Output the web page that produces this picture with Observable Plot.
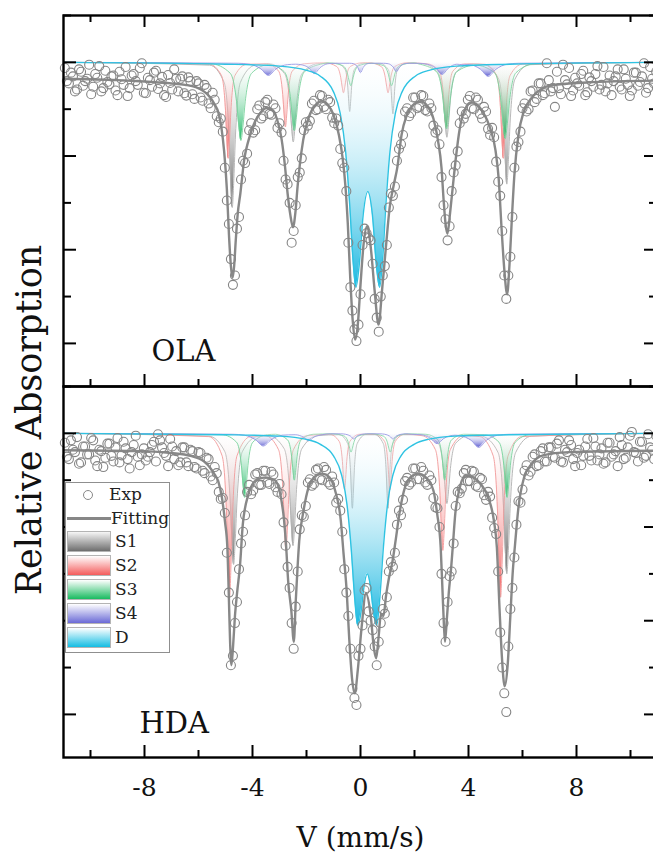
<!DOCTYPE html>
<html>
<head>
<meta charset="utf-8">
<script src="https://cdn.jsdelivr.net/npm/d3@7"></script>
<script src="https://cdn.jsdelivr.net/npm/@observablehq/plot@0.6"></script>
<style>
  html, body { margin: 0; padding: 0; background: #fff; }
  #wrap { position: relative; width: 653px; height: 856px; overflow: hidden; }
  #ylabel { position: absolute; left: 29px; top: 420px; transform: translate(-50%, -50%) rotate(-90deg);
            font-family: 'DejaVu Serif', 'Liberation Serif', serif; font-size: 35px; line-height: 1; white-space: nowrap; color: #111; }
  #legend { position: absolute; left: 65px; top: 482px; width: 103px; height: 169px;
            border: 1px solid #8f8f8f; background: #fff;
            font-family: 'DejaVu Serif', 'Liberation Serif', serif; font-size: 17px; color: #222; }
  #legend .it { position: absolute; }
  #legend .lbl { position: absolute; line-height: 20px; white-space: nowrap; }
  #legend .sw { position: absolute; left: 1px; width: 42px; height: 19px; border: 1px solid #b4b4b4; }
</style>
</head>
<body>
<svg width="0" height="0" style="position:absolute">
  <defs>
    <linearGradient id="gS1" x1="0" y1="0" x2="0" y2="1">
      <stop offset="0" stop-color="#ffffff" stop-opacity="0.1"/>
      <stop offset="1" stop-color="#555555" stop-opacity="0.95"/>
    </linearGradient>
    <linearGradient id="gS2" x1="0" y1="0" x2="0" y2="1">
      <stop offset="0" stop-color="#ffffff" stop-opacity="0.1"/>
      <stop offset="1" stop-color="#f24f4f" stop-opacity="0.95"/>
    </linearGradient>
    <linearGradient id="gS3" x1="0" y1="0" x2="0" y2="1">
      <stop offset="0" stop-color="#ffffff" stop-opacity="0.1"/>
      <stop offset="1" stop-color="#0fb45a" stop-opacity="0.95"/>
    </linearGradient>
    <linearGradient id="gS4" x1="0" y1="0" x2="0" y2="1">
      <stop offset="0" stop-color="#ffffff" stop-opacity="0.1"/>
      <stop offset="1" stop-color="#5a5ad0" stop-opacity="0.95"/>
    </linearGradient>
    <linearGradient id="gD" x1="0" y1="0" x2="0" y2="1">
      <stop offset="0" stop-color="#ffffff" stop-opacity="0.1"/>
      <stop offset="1" stop-color="#0db3df" stop-opacity="0.95"/>
    </linearGradient>
  </defs>
</svg>
<div id="wrap">
  <div id="chart"></div>
  <div id="ylabel">Relative Absorption</div>
  <div id="legend">
    <div class="it" style="left:17px;top:7px;width:8px;height:8px;border:1px solid #888;border-radius:50%;"></div>
    <div class="lbl" style="left:43px;top:1px;">Exp</div>
    <div class="it" style="left:1px;top:34px;width:44px;height:2.5px;background:#878787;"></div>
    <div class="lbl" style="left:45px;top:25px;">Fitting</div>
    <div class="sw" style="top:48px;background:linear-gradient(#f6f6f6,#6e6e6e);"></div>
    <div class="lbl" style="left:49px;top:48px;">S1</div>
    <div class="sw" style="top:72px;background:linear-gradient(#ffffff,#f45c5c);"></div>
    <div class="lbl" style="left:49px;top:72px;">S2</div>
    <div class="sw" style="top:96px;background:linear-gradient(#ffffff,#19bb60);"></div>
    <div class="lbl" style="left:49px;top:96px;">S3</div>
    <div class="sw" style="top:120px;background:linear-gradient(#ffffff,#6a6ad6);"></div>
    <div class="lbl" style="left:49px;top:120px;">S4</div>
    <div class="sw" style="top:144px;background:linear-gradient(#ffffff,#13bde3);"></div>
    <div class="lbl" style="left:49px;top:144px;">D</div>
  </div>
</div>
<script>
// ---------- tick values ----------
const xMajor = [-8, -4, 0, 4, 8];
const xMinor = [-10, -6, -2, 2, 6, 10];
const yMajor = [0, -2, -4, -6];
const yMinor = [1, -1, -3, -5];
const panels = ["OLA", "HDA"];

// ---------- experimental channels (mm/s), two interleaved sets ----------
const velocity = [-10.95,-10.80,-10.65,-10.50,-10.35,-10.20,-10.05,-9.90,-9.75,-9.60,-9.45,-9.30,-9.15,-9.00,-8.85,-8.70,-8.55,-8.40,-8.25,-8.10,-7.95,-7.80,-7.65,-7.50,-7.35,-7.20,-7.05,-6.90,-6.75,-6.60,-6.45,-6.30,-6.15,-6.00,-5.85,-5.70,-5.55,-5.40,-5.25,-5.10,-4.95,-4.80,-4.65,-4.50,-4.35,-4.20,-4.05,-3.90,-3.75,-3.60,-3.45,-3.30,-3.15,-3.00,-2.85,-2.70,-2.55,-2.40,-2.25,-2.10,-1.95,-1.80,-1.65,-1.50,-1.35,-1.20,-1.05,-0.90,-0.75,-0.60,-0.45,-0.30,-0.15,0.00,0.15,0.30,0.45,0.60,0.75,0.90,1.05,1.20,1.35,1.50,1.65,1.80,1.95,2.10,2.25,2.40,2.55,2.70,2.85,3.00,3.15,3.30,3.45,3.60,3.75,3.90,4.05,4.20,4.35,4.50,4.65,4.80,4.95,5.10,5.25,5.40,5.55,5.70,5.85,6.00,6.15,6.30,6.45,6.60,6.75,6.90,7.05,7.20,7.35,7.50,7.65,7.80,7.95,8.10,8.25,8.40,8.55,8.70,8.85,9.00,9.15,9.30,9.45,9.60,9.75,9.90,10.05,10.20,10.35,10.50,10.65,10.80,10.95];
const velocityB = [-10.875,-10.725,-10.575,-10.425,-10.275,-10.125,-9.975,-9.825,-9.675,-9.525,-9.375,-9.225,-9.075,-8.925,-8.775,-8.625,-8.475,-8.325,-8.175,-8.025,-7.875,-7.725,-7.575,-7.425,-7.275,-7.125,-6.975,-6.825,-6.675,-6.525,-6.375,-6.225,-6.075,-5.925,-5.775,-5.625,-5.475,-5.325,-5.175,-5.025,-4.875,-4.725,-4.575,-4.425,-4.275,-4.125,-3.975,-3.825,-3.675,-3.525,-3.375,-3.225,-3.075,-2.925,-2.775,-2.625,-2.475,-2.325,-2.175,-2.025,-1.875,-1.725,-1.575,-1.425,-1.275,-1.125,-0.975,-0.825,-0.675,-0.525,-0.375,-0.225,-0.075,0.075,0.225,0.375,0.525,0.675,0.825,0.975,1.125,1.275,1.425,1.575,1.725,1.875,2.025,2.175,2.325,2.475,2.625,2.775,2.925,3.075,3.225,3.375,3.525,3.675,3.825,3.975,4.125,4.275,4.425,4.575,4.725,4.875,5.025,5.175,5.325,5.475,5.625,5.775,5.925,6.075,6.225,6.375,6.525,6.675,6.825,6.975,7.125,7.275,7.425,7.575,7.725,7.875,8.025,8.175,8.325,8.475,8.625,8.775,8.925,9.075,9.225,9.375,9.525,9.675,9.825,9.975,10.125,10.275,10.425,10.575,10.725,10.875];

// ---------- OLA panel ----------
const olaExp = [-0.12,-0.45,-0.30,-0.58,-0.20,-0.40,-0.05,-0.52,-0.33,-0.62,-0.18,-0.47,-0.28,-0.70,-0.36,-0.10,-0.55,-0.25,-0.48,-0.02,-0.66,-0.38,-0.22,-0.57,-0.31,-0.74,-0.44,-0.15,
-0.62,-0.30,-0.71,-0.40,-0.78,-0.45,-0.82,-0.55,-0.98,-0.80,-1.28,-1.48,-2.95,-4.20,-4.55,-3.30,-2.10,-1.95,-1.30,-1.45,-0.92,-1.15,-0.80,-1.12,-0.98,-1.30,-2.10,-2.60,-3.85,-3.05,-2.35,-1.45,-1.35,-0.88,-1.02,-0.70,-0.95,-0.80,-1.18,-1.20,-1.85,-2.25,-3.85,-5.30,-5.95,-4.95,-3.55,-3.75,-4.30,-5.45,-5.00,-4.35,-3.10,-2.85,-2.10,-1.75,-1.05,-1.15,-0.75,-0.98,-0.70,-1.02,-0.88,-1.35,-1.45,-2.45,-3.35,-3.50,-2.35,-1.90,-1.05,-1.10,-0.72,-1.00,-0.80,-1.20,-1.05,-1.55,-1.60,-2.55,-3.60,-5.05,-4.15,-2.25,-1.70,-0.98,-1.05,-0.62,-0.85,-0.45,-0.70,-0.02,
-0.62,-0.95,-0.55,-0.05,-0.47,-0.72,-0.33,-0.50,-0.18,-0.64,-0.40,-0.25,-0.58,-0.10,-0.45,-0.70,-0.30,-0.52,-0.15,-0.48,-0.60,-0.22,-0.42,-0.02,-0.55,-0.35,-0.20];
const olaExpB = [-0.40,-0.22,-0.62,-0.15,-0.50,-0.35,-0.68,-0.25,-0.08,-0.55,-0.42,-0.30,-0.60,-0.20,-0.48,-0.72,-0.28,-0.40,-0.12,-0.65,-0.33,-0.52,-0.18,-0.45,-0.70,-0.27,-0.58,-0.35,
-0.35,-0.66,-0.32,-0.68,-0.40,-0.75,-0.48,-0.88,-0.65,-1.15,-1.20,-2.25,-3.45,-4.75,-3.55,-2.50,-2.15,-1.45,-1.50,-1.00,-1.20,-0.85,-1.10,-0.90,-1.40,-1.50,-2.50,-3.00,-3.60,-2.45,-2.05,-1.28,-1.25,-0.82,-1.00,-0.72,-1.00,-0.85,-1.30,-1.35,-2.15,-2.75,-4.80,-5.70,-5.60,-3.90,-3.65,-3.80,-5.05,-5.75,-4.55,-3.90,-2.80,-2.65,-1.85,-1.55,-0.98,-1.08,-0.75,-0.95,-0.72,-1.05,-0.98,-1.50,-1.75,-3.05,-3.80,-2.75,-2.20,-1.30,-1.20,-0.80,-0.98,-0.75,-1.10,-0.95,-1.42,-1.40,-2.12,-2.85,-4.55,-4.55,-3.30,-1.80,-1.48,-0.88,-1.00,-0.60,-0.78,-0.45,-0.66,-0.38,
-0.55,-0.20,-0.68,-0.38,-0.12,-0.60,-0.45,-0.25,-0.70,-0.32,-0.52,-0.08,-0.48,-0.62,-0.28,-0.40,-0.15,-0.58,-0.35,-0.72,-0.22,-0.50,-0.30,-0.65,-0.10,-0.45];

const olaFit = [[-10.95,-0.35],[-9,-0.38],[-8,-0.41],[-7,-0.45],[-6.5,-0.48],[-6.1,-0.53],[-5.8,-0.62],[-5.55,-0.76],[-5.4,-0.9],[-5.27,-1.06],[-5.15,-1.4],[-5.05,-1.9],[-4.95,-2.7],[-4.87,-3.7],[-4.8,-4.35],[-4.74,-4.6],[-4.68,-4.35],[-4.62,-3.8],[-4.55,-3.25],[-4.45,-2.8],[-4.3,-2.05],[-4.15,-1.67],[-3.95,-1.32],[-3.7,-1.07],[-3.45,-0.97],[-3.24,-1.03],[-3.05,-1.3],[-2.92,-1.65],[-2.8,-2.2],[-2.7,-2.8],[-2.6,-3.25],[-2.5,-3.52],[-2.41,-3.2],[-2.33,-2.65],[-2.25,-2.2],[-2.12,-1.65],[-1.92,-1.18],[-1.65,-0.9],[-1.43,-0.83],[-1.22,-0.9],[-1.0,-1.12],[-0.8,-1.55],[-0.66,-2.05],[-0.55,-2.7],[-0.47,-3.45],[-0.38,-4.6],[-0.29,-5.5],[-0.2,-5.92],[-0.1,-5.6],[0.0,-4.75],[0.12,-3.85],[0.25,-3.5],[0.38,-3.95],[0.52,-4.85],[0.67,-5.6],[0.8,-4.85],[0.94,-3.95],[1.08,-3.1],[1.22,-2.65],[1.37,-2.22],[1.52,-1.55],[1.72,-1.12],[2.0,-0.88],[2.21,-0.83],[2.48,-0.93],[2.7,-1.2],[2.87,-1.67],[3.0,-2.25],[3.08,-2.95],[3.15,-3.45],[3.22,-3.66],[3.32,-3.2],[3.42,-2.65],[3.52,-2.1],[3.68,-1.4],[3.89,-0.98],[4.1,-0.85],[4.3,-0.9],[4.52,-1.05],[4.8,-1.4],[5.0,-1.88],[5.12,-2.5],[5.22,-3.5],[5.33,-4.45],[5.43,-4.95],[5.52,-4.3],[5.6,-3.4],[5.7,-2.4],[5.85,-1.55],[6.05,-1.05],[6.35,-0.75],[6.7,-0.57],[7.0,-0.5],[8.4,-0.43],[10.95,-0.39]];

const olaS1 = [[-11,0],[-5.59,-0.06],[-5.05,-0.43],[-4.87,-1.55],[-4.81,-2.48],[-4.75,-3.1],[-4.69,-2.48],[-4.63,-1.55],[-4.45,-0.43],[-3.91,-0.06],[-3.40,-0.03],[-2.815,-0.24],[-2.62,-0.85],[-2.555,-1.36],[-2.49,-1.7],[-2.425,-1.36],[-2.36,-0.85],[-2.165,-0.24],[-1.58,-0.03],[-0.89,-0.02],[-0.575,-0.15],[-0.47,-0.53],[-0.435,-0.84],[-0.40,-1.05],[-0.365,-0.84],[-0.33,-0.53],[-0.225,-0.15],[0.09,-0.02],[0.71,-0.02],[1.025,-0.15],[1.13,-0.55],[1.165,-0.88],[1.2,-1.1],[1.235,-0.88],[1.27,-0.55],[1.375,-0.15],[1.69,-0.02],[2.29,-0.03],[2.875,-0.22],[3.07,-0.8],[3.135,-1.28],[3.2,-1.6],[3.265,-1.28],[3.33,-0.8],[3.525,-0.22],[4.11,-0.03],[4.58,-0.05],[5.12,-0.36],[5.30,-1.3],[5.36,-2.08],[5.42,-2.6],[5.48,-2.08],[5.54,-1.3],[5.72,-0.36],[6.26,-0.05],[11,0]];

const olaS2 = [[-11,0],[-5.6,-0.04],[-5.15,-0.28],[-5.0,-1.03],[-4.95,-1.64],[-4.9,-2.05],[-4.85,-1.64],[-4.8,-1.03],[-4.65,-0.28],[-4.2,-0.04],[-3.48,-0.03],[-3.03,-0.19],[-2.88,-0.69],[-2.83,-1.1],[-2.78,-1.38],[-2.73,-1.1],[-2.68,-0.69],[-2.53,-0.19],[-2.08,-0.03],[-1.33,-0.01],[-0.88,-0.09],[-0.73,-0.33],[-0.68,-0.52],[-0.63,-0.65],[-0.58,-0.52],[-0.53,-0.33],[-0.38,-0.09],[0.07,-0.01],[0.32,-0.01],[0.77,-0.09],[0.92,-0.33],[0.97,-0.52],[1.02,-0.65],[1.07,-0.52],[1.12,-0.33],[1.27,-0.09],[1.72,-0.01],[2.47,-0.03],[2.92,-0.19],[3.07,-0.69],[3.12,-1.1],[3.17,-1.38],[3.22,-1.1],[3.27,-0.69],[3.42,-0.19],[3.87,-0.03],[4.59,-0.04],[5.04,-0.28],[5.19,-1.03],[5.24,-1.64],[5.29,-2.05],[5.34,-1.64],[5.39,-1.03],[5.54,-0.28],[5.99,-0.04],[11,0]];

const olaS3 = [[-11,0],[-5.55,-0.03],[-4.83,-0.23],[-4.59,-0.84],[-4.51,-1.34],[-4.43,-1.67],[-4.35,-1.34],[-4.27,-0.84],[-4.03,-0.23],[-3.4,-0.05],[-2.825,-0.2],[-2.6,-0.73],[-2.525,-1.17],[-2.45,-1.46],[-2.375,-1.17],[-2.3,-0.73],[-2.075,-0.2],[-1.4,-0.03],[-1.2,-0.01],[-0.66,-0.07],[-0.48,-0.25],[-0.42,-0.4],[-0.36,-0.5],[-0.3,-0.4],[-0.24,-0.25],[-0.06,-0.07],[0.4,-0.02],[0.85,-0.07],[1.03,-0.25],[1.09,-0.4],[1.15,-0.5],[1.21,-0.4],[1.27,-0.25],[1.45,-0.07],[1.99,-0.01],[2.14,-0.03],[2.815,-0.2],[3.04,-0.71],[3.115,-1.14],[3.19,-1.42],[3.265,-1.14],[3.34,-0.71],[3.565,-0.2],[4.24,-0.06],[4.96,-0.22],[5.2,-0.82],[5.28,-1.3],[5.36,-1.63],[5.44,-1.3],[5.52,-0.82],[5.76,-0.22],[6.48,-0.03],[11,0]];

const olaS4 = [[-11,0],[-4.53,-0.02],[-4.11,-0.04],[-3.69,-0.14],[-3.41,-0.28],[-3.13,-0.14],[-2.71,-0.05],[-2.4,-0.04],[-2.21,-0.05],[-1.91,-0.12],[-1.71,-0.24],[-1.51,-0.12],[-1.21,-0.03],[-0.91,-0.02],[-0.4,-0.02],[-0.25,-0.03],[-0.1,-0.11],[0,-0.22],[0.1,-0.11],[0.25,-0.03],[0.4,-0.02],[0.85,-0.02],[1.03,-0.03],[1.21,-0.1],[1.33,-0.2],[1.45,-0.1],[1.63,-0.03],[1.81,-0.02],[2.14,-0.02],[2.47,-0.04],[2.8,-0.13],[3.02,-0.26],[3.24,-0.13],[3.57,-0.04],[3.75,-0.05],[4.03,-0.05],[4.45,-0.15],[4.73,-0.3],[5.01,-0.15],[5.43,-0.04],[5.85,-0.02],[11,0]];

const olaD = [[-11,0],[-5,-0.04],[-3,-0.08],[-2,-0.17],[-1.5,-0.29],[-1,-0.63],[-0.75,-1.09],[-0.55,-1.91],[-0.4,-3.04],[-0.28,-4.2],[-0.17,-4.8],[-0.05,-4.34],[0.1,-3.25],[0.27,-2.76],[0.44,-3.25],[0.59,-4.34],[0.71,-4.8],[0.82,-4.2],[0.94,-3.04],[1.09,-1.91],[1.29,-1.09],[1.54,-0.63],[2.04,-0.29],[2.54,-0.17],[3.54,-0.08],[5.54,-0.04],[11,0]];

// ---------- HDA panel ----------
const hdaExp = [-0.20,-0.55,-0.35,-0.08,-0.62,-0.28,-0.45,-0.15,-0.70,-0.38,-0.52,-0.22,-0.60,-0.10,-0.47,-0.32,-0.75,-0.25,-0.50,-0.45,-0.58,-0.40,-0.18,-0.02,-0.30,-0.48,-0.12,-0.55,
-0.68,-0.30,-0.62,-0.35,-0.72,-0.40,-0.80,-0.52,-0.92,-0.72,-1.25,-1.38,-2.55,-4.95,-4.05,-2.90,-2.10,-1.25,-1.30,-0.88,-1.10,-0.80,-1.05,-0.82,-1.15,-1.08,-1.90,-2.85,-4.05,-3.70,-2.05,-1.78,-1.05,-1.12,-0.78,-0.98,-0.72,-1.05,-0.92,-1.48,-1.65,-2.90,-3.90,-5.45,-5.80,-4.60,-3.35,-3.80,-4.20,-4.95,-4.05,-3.85,-2.95,-2.85,-1.95,-1.75,-1.02,-1.10,-0.75,-0.98,-0.72,-1.05,-0.90,-1.38,-1.60,-3.00,-4.45,-3.05,-2.35,-1.25,-1.18,-0.78,-1.02,-0.82,-1.15,-0.98,-1.42,-1.35,-2.02,-2.95,-5.00,-5.95,-3.75,-2.65,-1.45,-1.20,-0.68,-0.82,-0.45,-0.68,-0.32,-0.60,
-0.30,-0.52,-0.15,-0.62,-0.40,-0.25,-0.70,-0.35,-0.48,-0.12,-0.58,-0.28,-0.45,-0.65,-0.20,-0.50,-0.38,-0.08,-0.55,-0.30,0.03,-0.42,-0.18,-0.52,-0.02,-0.35,-0.05];
const hdaExpB = [-0.50,-0.15,-0.40,-0.65,-0.28,-0.45,-0.10,-0.58,-0.35,-0.72,-0.22,-0.48,-0.30,-0.62,-0.18,-0.55,-0.40,-0.05,-0.68,-0.32,-0.50,-0.25,-0.60,-0.15,-0.42,-0.70,-0.28,-0.38,
-0.62,-0.30,-0.70,-0.38,-0.75,-0.42,-0.85,-0.55,-1.00,-0.85,-1.40,-1.70,-3.40,-4.75,-3.60,-2.35,-1.75,-1.10,-1.22,-0.85,-1.10,-0.80,-1.08,-0.88,-1.25,-1.30,-2.40,-3.30,-4.60,-2.95,-1.75,-1.55,-0.98,-1.08,-0.75,-1.00,-0.78,-1.10,-1.05,-1.40,-2.10,-3.40,-4.60,-5.65,-4.75,-4.10,-3.30,-4.00,-4.55,-4.45,-3.75,-3.50,-2.75,-2.55,-1.65,-1.42,-0.95,-1.05,-0.75,-0.98,-0.80,-1.10,-1.00,-1.58,-2.00,-4.05,-3.60,-2.95,-1.55,-1.28,-0.85,-1.02,-0.80,-1.12,-0.95,-1.32,-1.25,-1.80,-2.15,-4.25,-5.55,-4.55,-3.30,-1.95,-1.48,-0.80,-0.90,-0.50,-0.70,-0.38,-0.60,-0.30,
-0.50,-0.22,-0.60,-0.35,-0.15,-0.55,-0.42,-0.68,-0.28,-0.48,-0.10,-0.58,-0.32,-0.62,-0.20,-0.45,-0.70,-0.25,-0.52,-0.05,-0.40,-0.60,-0.18,-0.48,-0.30,-0.55];

const hdaFit = [[-10.95,-0.36],[-8,-0.38],[-7,-0.42],[-6.3,-0.48],[-5.8,-0.6],[-5.55,-0.75],[-5.4,-0.88],[-5.27,-1.02],[-5.13,-1.38],[-5.02,-1.88],[-4.93,-2.45],[-4.88,-3.4],[-4.83,-4.45],[-4.78,-4.95],[-4.72,-4.55],[-4.65,-3.9],[-4.57,-3.4],[-4.46,-2.8],[-4.36,-1.95],[-4.15,-1.3],[-3.87,-1.0],[-3.52,-0.94],[-3.17,-1.0],[-2.97,-1.3],[-2.83,-1.86],[-2.75,-2.45],[-2.68,-3.15],[-2.56,-3.8],[-2.47,-4.45],[-2.4,-3.6],[-2.33,-2.85],[-2.27,-2.3],[-2.13,-1.72],[-1.92,-1.15],[-1.64,-0.9],[-1.43,-0.86],[-1.15,-0.94],[-0.94,-1.22],[-0.73,-1.86],[-0.63,-2.55],[-0.52,-3.3],[-0.41,-4.45],[-0.31,-5.25],[-0.21,-5.55],[-0.1,-5.05],[0.04,-4.15],[0.2,-3.42],[0.37,-3.85],[0.5,-4.6],[0.58,-4.8],[0.67,-4.35],[0.76,-3.85],[0.85,-3.9],[0.95,-3.45],[1.05,-3.1],[1.18,-2.75],[1.3,-2.29],[1.44,-1.72],[1.65,-1.15],[1.93,-0.9],[2.14,-0.86],[2.42,-0.94],[2.7,-1.22],[2.84,-1.72],[2.97,-2.43],[3.04,-3.4],[3.09,-4.1],[3.13,-4.45],[3.2,-3.95],[3.27,-3.4],[3.36,-2.85],[3.42,-2.4],[3.51,-1.72],[3.68,-1.15],[3.89,-0.9],[4.17,-0.94],[4.45,-1.08],[4.73,-1.37],[4.94,-1.86],[5.05,-2.43],[5.15,-3.75],[5.24,-4.8],[5.34,-5.4],[5.45,-4.95],[5.55,-3.9],[5.64,-2.95],[5.72,-2.4],[5.85,-1.58],[6.06,-0.94],[6.34,-0.65],[6.76,-0.47],[7.7,-0.4],[10.95,-0.37]];

const hdaS1 = [[-11,0],[-5.61,-0.06],[-5.025,-0.39],[-4.83,-1.4],[-4.765,-2.24],[-4.7,-2.8],[-4.635,-2.24],[-4.57,-1.4],[-4.375,-0.39],[-3.79,-0.06],[-3.41,-0.05],[-2.825,-0.33],[-2.63,-1.2],[-2.565,-1.92],[-2.5,-2.4],[-2.435,-1.92],[-2.37,-1.2],[-2.175,-0.33],[-1.59,-0.05],[-0.79,-0.03],[-0.475,-0.22],[-0.37,-0.8],[-0.335,-1.28],[-0.3,-1.6],[-0.265,-1.28],[-0.23,-0.8],[-0.125,-0.22],[0.19,-0.03],[0.53,-0.03],[0.845,-0.22],[0.95,-0.8],[0.985,-1.28],[1.02,-1.6],[1.055,-1.28],[1.09,-0.8],[1.195,-0.22],[1.51,-0.03],[2.29,-0.03],[2.875,-0.21],[3.07,-0.75],[3.135,-1.2],[3.2,-1.5],[3.265,-1.2],[3.33,-0.75],[3.525,-0.21],[4.11,-0.03],[4.51,-0.06],[5.095,-0.41],[5.29,-1.5],[5.355,-2.4],[5.42,-3.0],[5.485,-2.4],[5.55,-1.5],[5.745,-0.41],[6.33,-0.06],[11,0]];

const hdaS2 = [[-11,0],[-5.62,-0.07],[-5.125,-0.48],[-4.96,-1.75],[-4.905,-2.8],[-4.85,-3.5],[-4.795,-2.8],[-4.74,-1.75],[-4.575,-0.48],[-4.08,-0.07],[-3.53,-0.05],[-3.035,-0.35],[-2.87,-1.25],[-2.815,-2.0],[-2.76,-2.5],[-2.705,-2.0],[-2.65,-1.25],[-2.485,-0.35],[-1.99,-0.05],[-1.15,-0.02],[-0.79,-0.17],[-0.67,-0.6],[-0.63,-0.96],[-0.59,-1.2],[-0.55,-0.96],[-0.51,-0.6],[-0.39,-0.17],[-0.03,-0.02],[0.53,-0.02],[0.89,-0.17],[1.01,-0.6],[1.05,-0.96],[1.09,-1.2],[1.13,-0.96],[1.17,-0.6],[1.29,-0.17],[1.65,-0.02],[2.28,-0.05],[2.775,-0.35],[2.94,-1.25],[2.995,-2.0],[3.05,-2.5],[3.105,-2.0],[3.16,-1.25],[3.325,-0.35],[3.82,-0.05],[4.42,-0.07],[4.915,-0.48],[5.08,-1.75],[5.135,-2.8],[5.19,-3.5],[5.245,-2.8],[5.3,-1.75],[5.465,-0.48],[5.96,-0.07],[11,0]];

const hdaS3 = [[-11,0],[-5.13,-0.03],[-4.59,-0.19],[-4.41,-0.69],[-4.35,-1.1],[-4.29,-1.37],[-4.23,-1.1],[-4.17,-0.69],[-3.99,-0.19],[-3.45,-0.03],[-3.15,-0.02],[-2.7,-0.14],[-2.55,-0.5],[-2.5,-0.8],[-2.45,-1.0],[-2.4,-0.8],[-2.35,-0.5],[-2.2,-0.14],[-1.75,-0.02],[-1.05,-0.01],[-0.6,-0.06],[-0.45,-0.2],[-0.4,-0.32],[-0.35,-0.4],[-0.3,-0.32],[-0.25,-0.2],[-0.1,-0.06],[0.37,-0.01],[0.85,-0.06],[1.0,-0.2],[1.05,-0.32],[1.1,-0.4],[1.15,-0.32],[1.2,-0.2],[1.35,-0.06],[1.8,-0.01],[2.42,-0.02],[2.87,-0.14],[3.02,-0.5],[3.07,-0.8],[3.12,-1.0],[3.17,-0.8],[3.22,-0.5],[3.37,-0.14],[3.82,-0.02],[4.59,-0.03],[5.13,-0.19],[5.31,-0.69],[5.37,-1.1],[5.43,-1.37],[5.49,-1.1],[5.55,-0.69],[5.73,-0.19],[6.27,-0.03],[11,0]];

const hdaS4 = [[-11,0],[-4.72,-0.02],[-4.3,-0.04],[-3.88,-0.14],[-3.6,-0.27],[-3.32,-0.14],[-2.9,-0.04],[-2.42,-0.03],[-2.12,-0.08],[-1.92,-0.16],[-1.72,-0.08],[-1.42,-0.03],[-1.12,-0.01],[-0.73,-0.01],[-0.55,-0.02],[-0.37,-0.06],[-0.25,-0.12],[-0.13,-0.06],[0.05,-0.02],[0.23,-0.01],[0.72,-0.01],[0.9,-0.02],[1.08,-0.06],[1.2,-0.12],[1.32,-0.06],[1.5,-0.02],[1.68,-0.01],[1.88,-0.02],[2.24,-0.03],[2.6,-0.11],[2.84,-0.22],[3.08,-0.11],[3.5,-0.04],[3.68,-0.05],[4.1,-0.15],[4.38,-0.3],[4.66,-0.15],[5.08,-0.04],[5.5,-0.02],[11,0]];

const hdaD = [[-11,0],[-5,-0.03],[-3,-0.06],[-2,-0.13],[-1.5,-0.23],[-1,-0.48],[-0.7,-0.89],[-0.5,-1.52],[-0.35,-2.42],[-0.22,-3.48],[-0.1,-4.1],[0.02,-3.81],[0.13,-3.27],[0.25,-3.0],[0.37,-3.27],[0.48,-3.81],[0.6,-4.1],[0.72,-3.48],[0.85,-2.42],[1.0,-1.52],[1.2,-0.89],[1.5,-0.48],[2.0,-0.23],[2.5,-0.13],[3.5,-0.06],[5.5,-0.03],[11,0]];

// ---------- build tables ----------
const toRows = (pairs, panel) => pairs.map(([v, y]) => ({panel, v, y}));
const zipRows = (vs, ys, panel) => vs.map((v, i) => ({panel, v, y: ys[i]}));
const expRows = [
  ...zipRows(velocity, olaExp, "OLA"), ...zipRows(velocityB, olaExpB, "OLA"),
  ...zipRows(velocity, hdaExp, "HDA"), ...zipRows(velocityB, hdaExpB, "HDA")
].filter(d => d.y !== undefined);
const fitRows = [...toRows(olaFit, "OLA"), ...toRows(hdaFit, "HDA")];

const components = [
  {key: "S1", ola: olaS1, hda: hdaS1, line: "#b0b0b0", w: 0.9},
  {key: "S2", ola: olaS2, hda: hdaS2, line: "#f29a9a", w: 0.9},
  {key: "S3", ola: olaS3, hda: hdaS3, line: "#78d29c", w: 0.9},
  {key: "S4", ola: olaS4, hda: hdaS4, line: "#8e8ee2", w: 0.9},
  {key: "D",  ola: olaD,  hda: hdaD,  line: "#2fc3e2", w: 1.4}
];
const compMarks = components.flatMap(c => {
  const rows = [...toRows(c.ola, "OLA"), ...toRows(c.hda, "HDA")];
  return [
    Plot.areaY(rows, {x: "v", y: "y", fy: "panel", fill: `url(#g${c.key})`, curve: "monotone-x"}),
    Plot.lineY(rows, {x: "v", y: "y", fy: "panel", stroke: c.line, strokeWidth: c.w, curve: "monotone-x"})
  ];
});

const FH = 371;   // facet height in px
const FW = 594;   // frame width in px
const font = "'DejaVu Serif','Liberation Serif',serif";

const chart = Plot.plot({
  width: 653,
  height: 856,
  marginLeft: 63,
  marginRight: -4,
  marginTop: 15,
  marginBottom: 99,
  style: {fontFamily: font, fontSize: "25px", background: "transparent", color: "#111"},
  x: {domain: [-11, 11], axis: null},
  y: {domain: [-6.92, 1], axis: null},
  fy: {domain: panels, padding: 0, axis: null},
  marks: [
    ...compMarks,
    Plot.line(fitRows, {x: "v", y: "y", fy: "panel", stroke: "#888888", strokeWidth: 2.4, curve: "monotone-x"}),
    Plot.dot(expRows, {x: "v", y: "y", fy: "panel", r: 4.5, stroke: "#858585", strokeWidth: 1.1, fill: "none"}),
    Plot.frame({stroke: "#000", strokeWidth: 2.4}),
    Plot.tickX(xMajor.map(v => ({v, panel: "OLA"})), {x: "v", fy: "panel", insetBottom: FH - 12, stroke: "#000", strokeWidth: 2}),
    Plot.tickX(xMinor.map(v => ({v, panel: "OLA"})), {x: "v", fy: "panel", insetBottom: FH - 7, stroke: "#000", strokeWidth: 2}),
    Plot.tickX(xMajor, {x: d => d, insetTop: FH - 12, stroke: "#000", strokeWidth: 2}),
    Plot.tickX(xMinor, {x: d => d, insetTop: FH - 7, stroke: "#000", strokeWidth: 2}),
    Plot.tickY(yMajor, {y: d => d, insetRight: FW - 13, stroke: "#000", strokeWidth: 2}),
    Plot.tickY(yMinor, {y: d => d, insetRight: FW - 8, stroke: "#000", strokeWidth: 2}),
    Plot.tickY(yMajor, {y: d => d, insetLeft: FW - 13, stroke: "#000", strokeWidth: 2}),
    Plot.tickY(yMinor, {y: d => d, insetLeft: FW - 8, stroke: "#000", strokeWidth: 2}),
    Plot.axisX({anchor: "bottom", ticks: xMajor, tickSize: 0, tickPadding: 21, label: null, fontSize: 25, tickFormat: d => String(d)}),
    Plot.axisX({anchor: "bottom", ticks: [], tickSize: 0, label: "V (mm/s)", labelAnchor: "center", labelOffset: 89, labelArrow: false, fontSize: 28}),
    Plot.text([{panel: "OLA", name: "OLA"}], {fy: "panel", text: "name", frameAnchor: "bottom-left", dx: 88, dy: -26, textAnchor: "start", lineAnchor: "bottom", fontSize: 29}),
    Plot.text([{panel: "HDA", name: "HDA"}], {fy: "panel", text: "name", frameAnchor: "bottom-left", dx: 76, dy: -25, textAnchor: "start", lineAnchor: "bottom", fontSize: 29})
  ]
});
document.getElementById("chart").appendChild(chart);
</script>
</body>
</html>
